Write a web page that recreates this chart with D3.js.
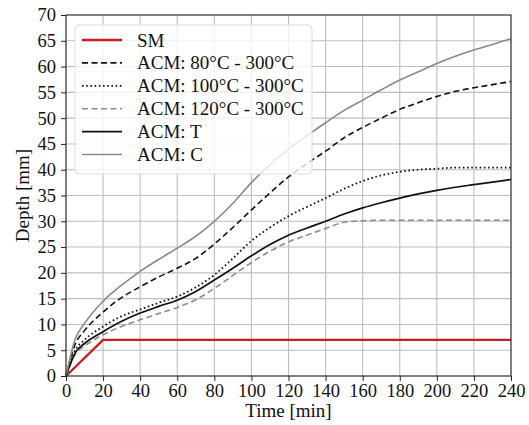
<!DOCTYPE html>
<html>
<head>
<meta charset="utf-8">
<script src="https://cdn.jsdelivr.net/npm/d3@7"></script>
<style>
  body { margin: 0; background: #fff; }
</style>
</head>
<body>
<div id="chart"></div>
<script>
const width = 529;
const height = 425;
const margin = {top: 15, right: 18, bottom: 49, left: 66};
const serif = "'Liberation Serif', 'Times New Roman', Times, serif";

// Time [min]
const times = [0, 5, 10, 20, 30, 40, 50, 60, 70, 80, 90, 100, 110, 120, 130, 140, 150, 160, 170, 180, 190, 200, 210, 220, 230, 240];

const smTimes = [0, 20, 240];
const smDepth = [0, 7, 7];

const acm80 = [0, 6.2, 8.8, 12.4, 15.2, 17.3, 19.2, 20.9, 22.8, 25.6, 28.8, 32.2, 35.5, 38.6, 41.2, 43.6, 46.2, 48.2, 50.0, 51.7, 53.0, 54.2, 55.2, 55.9, 56.5, 57.1];
const acm100 = [0, 5.0, 7.0, 9.6, 11.6, 12.9, 14.2, 15.4, 17.2, 19.6, 22.8, 26.2, 28.8, 31.0, 32.8, 34.5, 36.3, 37.8, 38.9, 39.6, 40.0, 40.2, 40.4, 40.4, 40.4, 40.4];
const acm120 = [0, 4.2, 5.8, 8.0, 9.6, 10.9, 12.1, 13.3, 14.8, 17.0, 19.5, 22.0, 24.2, 26.0, 27.3, 28.6, 29.8, 30.1, 30.2, 30.2, 30.2, 30.2, 30.2, 30.2, 30.2, 30.2];
const acmT = [0, 4.5, 6.3, 8.6, 10.6, 12.2, 13.5, 14.7, 16.4, 18.6, 20.9, 23.3, 25.5, 27.3, 28.7, 30.0, 31.4, 32.6, 33.6, 34.5, 35.3, 36.0, 36.6, 37.1, 37.6, 38.1];
const acmC = [0, 7.2, 10.2, 14.5, 17.6, 20.3, 22.6, 24.8, 27.1, 30.0, 33.5, 37.5, 41.0, 44.0, 46.6, 49.1, 51.5, 53.5, 55.5, 57.4, 59.0, 60.6, 62.0, 63.2, 64.3, 65.4];

const seriesNames = ["SM", "ACM: 80°C - 300°C", "ACM: 100°C - 300°C", "ACM: 120°C - 300°C", "ACM: T", "ACM: C"];

const xTicks = d3.range(0, 241, 20);
const yTicks = d3.range(0, 71, 5);

const styles = [
  {color: "#c81e24", width: 2.4, dash: null},
  {color: "#111", width: 1.6, dash: "6,3.5"},
  {color: "#111", width: 1.8, dash: "1.6,2.6"},
  {color: "#8c8c8c", width: 1.6, dash: "6,3.5"},
  {color: "#111", width: 1.7, dash: null},
  {color: "#8a8a8a", width: 1.6, dash: null}
];

const series = [
  smTimes.map((t, i) => [t, smDepth[i]]),
  times.map((t, i) => [t, acm80[i]]),
  times.map((t, i) => [t, acm100[i]]),
  times.map((t, i) => [t, acm120[i]]),
  times.map((t, i) => [t, acmT[i]]),
  times.map((t, i) => [t, acmC[i]])
];

const svg = d3.select("#chart")
              .append("svg")
              .attr("width", width)
              .attr("height", height);

const x = d3.scaleLinear().domain([0, 240]).range([margin.left, width - margin.right]);
const y = d3.scaleLinear().domain([0, 70]).range([height - margin.bottom, margin.top]);

// grid
svg.append("g")
   .selectAll("line")
   .data(xTicks)
   .enter()
   .append("line")
   .attr("x1", d => x(d)).attr("x2", d => x(d))
   .attr("y1", y(0)).attr("y2", y(70))
   .attr("stroke", "#bdbdbd").attr("stroke-width", 1.1);

svg.append("g")
   .selectAll("line")
   .data(yTicks)
   .enter()
   .append("line")
   .attr("y1", d => y(d)).attr("y2", d => y(d))
   .attr("x1", x(0)).attr("x2", x(240))
   .attr("stroke", "#bdbdbd").attr("stroke-width", 1.1);

// axes
const xAxis = svg.append("g")
                 .attr("transform", `translate(0,${y(0)})`)
                 .call(d3.axisBottom(x).tickValues(xTicks).tickSize(5).tickPadding(3).tickSizeOuter(0));
const yAxis = svg.append("g")
                 .attr("transform", `translate(${x(0)},0)`)
                 .call(d3.axisLeft(y).tickValues(yTicks).tickSize(5).tickPadding(5).tickSizeOuter(0));

[xAxis, yAxis].forEach(a => {
  a.attr("font-family", serif).attr("font-size", 18.5);
  a.select(".domain").remove();
  a.selectAll("line").attr("stroke", "#222");
  a.selectAll("text").attr("fill", "#111");
});

// lines
const line = d3.line()
               .x(d => x(d[0]))
               .y(d => y(d[1]))
               .curve(d3.curveMonotoneX);
const straight = d3.line()
                   .x(d => x(d[0]))
                   .y(d => y(d[1]));

svg.append("g")
   .selectAll("path")
   .data(series)
   .enter()
   .append("path")
   .attr("d", (d, i) => i === 0 ? straight(d) : line(d))
   .attr("fill", "none")
   .attr("stroke", (d, i) => styles[i].color)
   .attr("stroke-width", (d, i) => styles[i].width)
   .attr("stroke-dasharray", (d, i) => styles[i].dash);

// frame
svg.append("rect")
   .attr("x", x(0)).attr("y", y(70))
   .attr("width", x(240) - x(0)).attr("height", y(0) - y(70))
   .attr("fill", "none").attr("stroke", "#222").attr("stroke-width", 1);

// legend
const legend = svg.append("g").attr("transform", "translate(75,25)");

legend.append("rect")
      .attr("width", 237).attr("height", 149)
      .attr("rx", 4)
      .attr("fill", "#fff").attr("fill-opacity", 0.8)
      .attr("stroke", "#dcdcdc");

const item = legend.selectAll("g.item")
                   .data(seriesNames)
                   .enter()
                   .append("g")
                   .attr("class", "item")
                   .attr("transform", (d, i) => `translate(0, ${15 + i * 22.9})`);

item.append("line")
    .attr("x1", 7).attr("x2", 47)
    .attr("stroke", (d, i) => styles[i].color)
    .attr("stroke-width", (d, i) => styles[i].width)
    .attr("stroke-dasharray", (d, i) => styles[i].dash);

item.append("text")
    .attr("x", 62)
    .attr("y", 6.5)
    .attr("font-family", serif)
    .attr("font-size", 19)
    .attr("fill", "#111")
    .text(d => d);

// axis labels
svg.append("text")
   .attr("x", (x(0) + x(240)) / 2)
   .attr("y", 417)
   .attr("text-anchor", "middle")
   .attr("font-family", serif)
   .attr("font-size", 19)
   .attr("fill", "#111")
   .text("Time [min]");

svg.append("text")
   .attr("transform", `translate(29, ${(y(0) + y(70)) / 2}) rotate(-90)`)
   .attr("text-anchor", "middle")
   .attr("font-family", serif)
   .attr("font-size", 19)
   .attr("fill", "#111")
   .text("Depth [mm]");
</script>
</body>
</html>
